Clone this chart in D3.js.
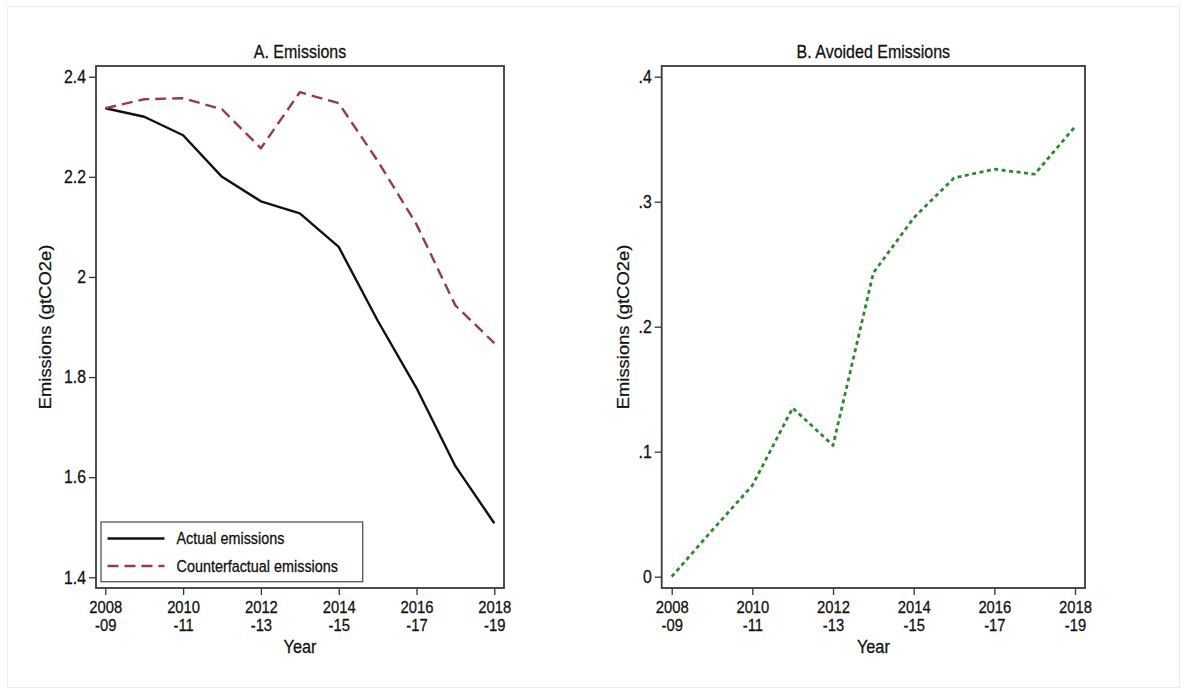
<!DOCTYPE html>
<html>
<head>
<meta charset="utf-8">
<script src="https://cdn.jsdelivr.net/npm/d3@7"></script>
<style>
  html, body { margin: 0; padding: 0; background: #fff; }
  svg { display: block; font-family: "Liberation Sans", Arial, Helvetica, sans-serif; }
</style>
</head>
<body>
<svg id="chart" width="1183" height="691"></svg>
<script>
// ---- data ----
const years = [2008, 2009, 2010, 2011, 2012, 2013, 2014, 2015, 2016, 2017, 2018];
const actualEmissions = [2.337, 2.320, 2.283, 2.200, 2.151, 2.127, 2.060, 1.913, 1.778, 1.622, 1.508];
const counterfactualEmissions = [2.337, 2.355, 2.357, 2.335, 2.257, 2.369, 2.347, 2.232, 2.105, 1.943, 1.868];
const avoidedEmissions = [0, 0.037, 0.073, 0.135, 0.105, 0.243, 0.287, 0.319, 0.326, 0.322, 0.360];
const xTickYears = [2008, 2010, 2012, 2014, 2016, 2018];
const xTickLine1 = ["2008", "2010", "2012", "2014", "2016", "2018"];
const xTickLine2 = ["-09", "-11", "-13", "-15", "-17", "-19"];
const leftYTicks = [1.4, 1.6, 1.8, 2.0, 2.2, 2.4];
const leftYLabels = ["1.4", "1.6", "1.8", "2", "2.2", "2.4"];
const rightYTicks = [0, 0.1, 0.2, 0.3, 0.4];
const rightYLabels = ["0", ".1", ".2", ".3", ".4"];
const seriesNames = ["Actual emissions", "Counterfactual emissions"];
const panelTitles = ["A. Emissions", "B. Avoided Emissions"];

const svg = d3.select("#chart");
const textColor = "#111";
const SY = 1.15; // vertical glyph stretch seen in the reference

function stext(parent, x, y, str, size, anchor) {
  return parent.append("text")
    .attr("transform", `translate(${x},${y}) scale(1,${SY})`)
    .attr("text-anchor", anchor || "start")
    .attr("font-size", size).attr("fill", textColor)
    .attr("stroke", textColor).attr("stroke-width", 0.25)
    .text(str);
}

// outer faint border
svg.append("rect").attr("x", 7.5).attr("y", 6.5).attr("width", 1172).attr("height", 681)
  .attr("fill", "#fff").attr("stroke", "#ececec").attr("stroke-width", 1);

function panel(opts) {
  const g = svg.append("g");
  const x = d3.scaleLinear().domain([2008, 2018]).range(opts.xRange);
  const y = d3.scaleLinear().domain(opts.yDomain).range(opts.yRange);
  const f = opts.frame; // [x0, y0, x1, y1]

  // title
  stext(g, (f[0] + f[2]) / 2, 58, opts.title, 16, "middle");

  // y axis
  const yAxis = d3.axisLeft(y).tickValues(opts.yTicks).tickSize(7).tickPadding(3)
    .tickFormat((d, i) => opts.yLabels[i]);
  const ga = g.append("g").attr("transform", `translate(${f[0]},0)`).call(yAxis);
  ga.select(".domain").remove();
  ga.selectAll("line").attr("stroke", "#333").attr("stroke-width", 1.3);
  ga.selectAll(".tick text").each(function () {
    const t = d3.select(this);
    const xx = +t.attr("x");
    t.attr("x", 0).attr("dy", "0.32em")
      .attr("transform", `translate(${xx},0) scale(1,${SY})`)
      .attr("font-size", 15.8).attr("fill", textColor)
      .attr("stroke", textColor).attr("stroke-width", 0.25)
      .attr("font-family", "Liberation Sans, Arial, sans-serif");
  });

  // x axis
  const xAxis = d3.axisBottom(x).tickValues(xTickYears).tickSize(7).tickPadding(3)
    .tickFormat(() => "");
  const gx = g.append("g").attr("transform", `translate(0,${f[3]})`).call(xAxis);
  gx.select(".domain").remove();
  gx.selectAll("line").attr("stroke", "#333").attr("stroke-width", 1.3);
  gx.selectAll(".tick text").remove();
  gx.selectAll(".tick").each(function (d) {
    const i = xTickYears.indexOf(d);
    const tk = d3.select(this);
    const a = stext(tk, 0, 24.5, xTickLine1[i], 14.8, "middle");
    const b = stext(tk, 0, 42.5, xTickLine2[i], 14.8, "middle");
    [a, b].forEach(t => t.attr("font-family", "Liberation Sans, Arial, sans-serif"));
  });

  // axis titles
  stext(g, (f[0] + f[2]) / 2, 653, "Year", 16.3, "middle");
  g.append("text")
    .attr("transform", `translate(${opts.yTitleX},${(f[1] + f[3]) / 2}) rotate(-90) scale(${SY},1)`)
    .attr("text-anchor", "middle").attr("font-size", 16).attr("fill", textColor)
    .attr("stroke", textColor).attr("stroke-width", 0.25)
    .text("Emissions (gtCO2e)");

  // lines
  const clipId = "clip" + opts.id;
  g.append("clipPath").attr("id", clipId).append("rect")
    .attr("x", f[0]).attr("y", f[1]).attr("width", f[2] - f[0]).attr("height", f[3] - f[1]);
  opts.series.forEach(s => {
    const line = d3.line().x((d, i) => x(years[i])).y(d => y(d));
    g.append("path").datum(s.values).attr("d", line)
      .attr("fill", "none").attr("stroke", s.color).attr("stroke-width", s.width)
      .attr("stroke-dasharray", s.dash).attr("stroke-linejoin", "round")
      .attr("clip-path", `url(#${clipId})`);
  });

  // frame
  g.append("rect").attr("x", f[0]).attr("y", f[1]).attr("width", f[2] - f[0]).attr("height", f[3] - f[1])
    .attr("fill", "none").attr("stroke", "#3a3a3a").attr("stroke-width", 1.8);
  return { g, x, y };
}

const left = panel({
  id: "A", title: panelTitles[0],
  frame: [96, 66, 504, 588],
  xRange: [105.3, 494.3], yDomain: [1.4, 2.4], yRange: [577.3, 76.7],
  yTicks: leftYTicks, yLabels: leftYLabels, yTitleX: 51,
  series: [
    { values: actualEmissions, color: "#111", width: 2.4, dash: null },
    { values: counterfactualEmissions, color: "#9a3a46", width: 2.4, dash: "11,6" }
  ]
});

panel({
  id: "B", title: panelTitles[1],
  frame: [661.7, 66, 1085, 588],
  xRange: [671.7, 1075], yDomain: [0, 0.4], yRange: [576.7, 76.7],
  yTicks: rightYTicks, yLabels: rightYLabels, yTitleX: 629,
  series: [
    { values: avoidedEmissions, color: "#2a8a2a", width: 2.8, dash: "4,3.5" }
  ]
});

// legend (left panel)
const lg = left.g.append("g");
lg.append("rect").attr("x", 101).attr("y", 522).attr("width", 261.7).attr("height", 59.7)
  .attr("fill", "#fff").attr("stroke", "#555").attr("stroke-width", 1.3);
const legendItems = [
  { name: seriesNames[0], color: "#111", width: 2.4, dash: null, y: 538.5 },
  { name: seriesNames[1], color: "#9a3a46", width: 2.4, dash: "11,6", y: 566 }
];
legendItems.forEach(it => {
  lg.append("line").attr("x1", 107.5).attr("x2", 164.5).attr("y1", it.y).attr("y2", it.y)
    .attr("stroke", it.color).attr("stroke-width", it.width).attr("stroke-dasharray", it.dash);
  stext(lg, 176.5, it.y + 5.5, it.name, 14.4, "start");
});
</script>
</body>
</html>
